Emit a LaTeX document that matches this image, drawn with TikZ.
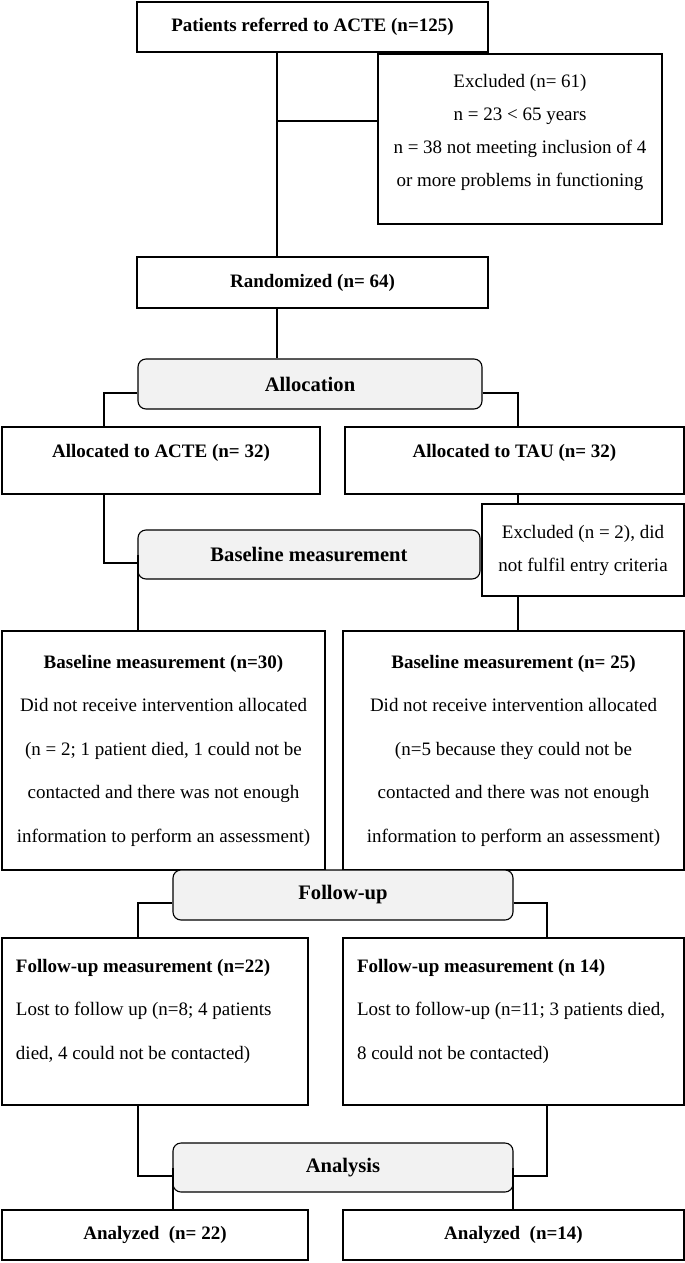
\documentclass[tikz,border=0pt]{standalone}
\usepackage{fontspec}
\setmainfont{Liberation Serif}
\definecolor{stagegray}{HTML}{F2F2F2}
\tikzset{>=stealth,
  sz/.style 2 args={minimum width=#1pt, minimum height=#2pt},
  box/.style={draw, align=center, inner sep=0pt, font=\fontsize{19}{43.5}\selectfont},
  tight/.style={font=\fontsize{19}{33}\selectfont},
  head/.style={font=\fontsize{19}{23}\selectfont\bfseries},
  low/.style={text height=14pt, text depth=20pt},
  stage/.style={draw, inner sep=0pt, rounded corners=8pt, fill=stagegray, font=\fontsize{20.6}{24}\selectfont\bfseries},
  inside/.style={align=left, inner sep=0pt, anchor=north west, font=\fontsize{19}{43.5}\selectfont}}

\begin{document}
\begin{tikzpicture}[x=1pt, y=-1pt, line width=1.1pt]
    \useasboundingbox (0,0) rectangle (685,1263);
    % enrolment
    \node[box, head, sz={351}{50}] (referred) at (312.5,27) {Patients referred to ACTE (n=125)};
    \node[box, sz={284}{170}] (excl) at (520,139) {};
    \node[align=center, inner sep=0pt, tight, anchor=north, yshift=-20pt] (excltext) at (excl.north)
        {Excluded (n= 61)\\ n = 23 < 65 years\\ n = 38 not meeting inclusion of 4\\ or more problems in functioning};
    \node[box, head, sz={351}{51}] (rand) at (312.5,282.5) {Randomized (n= 64)};
    % allocation
    \node[stage, sz={344}{50}] (alloc) at (310,384) {Allocation};
    \node[box, head, low, sz={318}{67}] (acte) at (161,460.5) {Allocated to ACTE (n= 32)};
    \node[box, head, low, sz={339}{67}] (tau) at (514.5,460.5) {Allocated to TAU (n= 32)};
    \node[box, tight, sz={202}{92}] (excl2) at (583,550) {Excluded (n = 2), did\\ not fulfil entry criteria};
    % baseline
    \node[stage, sz={342}{49}] (base) at (309,554.5) {Baseline measurement};
    \node[box, sz={323}{239}] (baseL) at (163.5,750.5)
        {\textbf{Baseline measurement (n=30)}\\ Did not receive intervention allocated\\ (n = 2; 1 patient died, 1 could not be\\ contacted and there was not enough\\ information to perform an assessment)};
    \node[box, sz={341}{239}] (baseR) at (513.5,750.5)
        {\textbf{Baseline measurement (n= 25)}\\ Did not receive intervention allocated\\ (n=5 because they could not be\\ contacted and there was not enough\\ information to perform an assessment)};
    % follow-up
    \node[stage, sz={340}{50}] (follow) at (343,895) {Follow-up};
    \node[box, sz={306}{167}] (fuL) at (155,1021.5) {};
    \node[inside] (fuLtext) at ([xshift=14pt, yshift=-21pt]fuL.north west)
        {\textbf{Follow-up measurement (n=22)}\\ Lost to follow up (n=8; 4 patients\\ died, 4 could not be contacted)};
    \node[box, sz={341}{167}] (fuR) at (513.5,1021.5) {};
    \node[inside] (fuRtext) at ([xshift=14pt, yshift=-21pt]fuR.north west)
        {\textbf{Follow-up measurement (n 14)}\\ Lost to follow-up (n=11; 3 patients died,\\ 8 could not be contacted)};
    % analysis
    \node[stage, sz={340}{49}] (anal) at (343,1167.5) {Analysis};
    \node[box, head, sz={306}{50}] (anL) at (155,1235) {Analyzed\ \ (n= 22)};
    \node[box, head, sz={341}{50}] (anR) at (513.5,1235) {Analyzed\ \ (n=14)};

    \coordinate (trunk) at (277,121);
    \coordinate (aL) at (104,393);
    \coordinate (aR) at (518,393);
    \coordinate (bL) at (104,563);
    \coordinate (fL) at (138,903);
    \coordinate (fR) at (547,903);
    \coordinate (gL) at (138,1176);
    \coordinate (gR) at (547,1176);
    \coordinate (hL) at (173,1167.5);
    \coordinate (hR) at (513,1167.5);

    \draw (referred.south -| trunk) -- (rand.north -| trunk);
    \draw (trunk) -- (trunk -| excl.west);
    \draw (rand.south -| trunk) -- (alloc.north -| trunk);
    \draw (alloc.west |- aL) -- (aL) -- (acte.north -| aL);
    \draw (alloc.east |- aR) -- (aR) -- (tau.north -| aR);
    \draw (tau.south -| aR) -- (excl2.north -| aR);
    \draw (acte.south -| bL) -- (bL) -- (base.west |- bL);
    \draw (base.west -| fL) -- (baseL.north -| fL);
    \draw (excl2.south -| aR) -- (baseR.north -| aR);
    \draw (follow.west |- fL) -- (fL) -- (fuL.north -| fL);
    \draw (follow.east |- fR) -- (fR) -- (fuR.north -| fR);
    \draw (fuL.south -| gL) -- (gL) -- (anal.west |- gL);
    \draw (fuR.south -| gR) -- (gR) -- (anal.east |- gR);
    \draw (hL) -- (anL.north -| hL);
    \draw (hR) -- (anR.north -| hR);
\end{tikzpicture}
\end{document}
